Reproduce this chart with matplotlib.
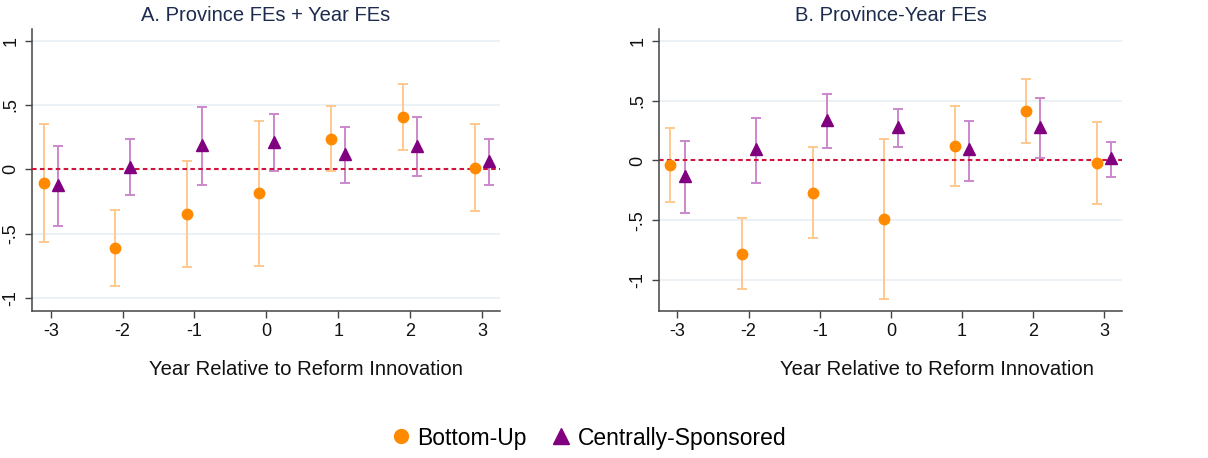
import matplotlib.pyplot as plt
from matplotlib.lines import Line2D

plt.rcParams["font.family"] = ["Liberation Sans", "DejaVu Sans"]

years = [-3, -2, -1, 0, 1, 2, 3]

# Panel A: Province FEs + Year FEs
a_bu = [-0.104, -0.61, -0.35, -0.184, 0.239, 0.408, 0.013]
a_bu_lo = [-0.566, -0.909, -0.761, -0.748, -0.013, 0.151, -0.327]
a_bu_hi = [0.356, -0.312, 0.062, 0.379, 0.494, 0.662, 0.356]
a_cs = [-0.125, 0.02, 0.19, 0.216, 0.12, 0.18, 0.062]
a_cs_lo = [-0.442, -0.203, -0.122, -0.016, -0.106, -0.055, -0.122]
a_cs_hi = [0.184, 0.239, 0.483, 0.429, 0.33, 0.405, 0.234]

# Panel B: Province-Year FEs
b_bu = [-0.039, -0.78, -0.271, -0.492, 0.123, 0.414, -0.022]
b_bu_lo = [-0.347, -1.08, -0.652, -1.158, -0.21, 0.145, -0.364]
b_bu_hi = [0.271, -0.478, 0.115, 0.182, 0.459, 0.683, 0.322]
b_cs = [-0.134, 0.095, 0.341, 0.283, 0.092, 0.28, 0.017]
b_cs_lo = [-0.439, -0.185, 0.103, 0.112, -0.176, 0.017, -0.14]
b_cs_hi = [0.16, 0.355, 0.559, 0.434, 0.333, 0.523, 0.154]

ORANGE = "#ff8a00"
ORANGE_CI = "#ffc98f"
PURPLE = "#800080"
PURPLE_CI = "#cc88cc"
TITLE_COLOR = "#1c2b4e"


def draw_panel(ax, title, bu, bu_lo, bu_hi, cs, cs_lo, cs_hi, ylim, label_x):
    off = 0.1
    xb = [x - off for x in years]
    xc = [x + off for x in years]

    for y in [-1, -0.5, 0.5, 1]:
        ax.axhline(y, color="#e8eff2", lw=1.2, zorder=0)

    ax.errorbar(xb, bu,
                yerr=[[b - l for b, l in zip(bu, bu_lo)],
                      [h - b for b, h in zip(bu, bu_hi)]],
                fmt="none", ecolor=ORANGE_CI, elinewidth=1.4, capsize=3.8,
                capthick=1.4, zorder=2)
    ax.errorbar(xc, cs,
                yerr=[[c - l for c, l in zip(cs, cs_lo)],
                      [h - c for c, h in zip(cs, cs_hi)]],
                fmt="none", ecolor=PURPLE_CI, elinewidth=1.4, capsize=3.8,
                capthick=1.4, zorder=2)
    ax.axhline(0, color="#d0143c", lw=1.5, ls=(0, (2.2, 1.6)), zorder=3)
    ax.plot(xb, bu, "o", color=ORANGE, ms=7.5, zorder=4, ls="none")
    ax.plot(xc, cs, "^", color=PURPLE, ms=8, zorder=4, ls="none")

    ax.set_xlim(-3.26, 3.25)
    ax.set_ylim(*ylim)
    ax.set_xticks(years)
    ax.set_xticklabels([str(y) for y in years])
    ax.set_yticks([-1, -0.5, 0, 0.5, 1])
    ax.set_yticklabels(["-1", "-.5", "0", ".5", "1"], rotation=90, va="center")
    ax.tick_params(axis="both", labelsize=13, length=5, width=1,
                   color="#444444", labelcolor="#111111", pad=4)
    for s in ["top", "right"]:
        ax.spines[s].set_visible(False)
    for s in ["left", "bottom"]:
        ax.spines[s].set_color("#444444")
        ax.spines[s].set_linewidth(1.1)
    ax.set_title(title, fontsize=14.5, color=TITLE_COLOR, pad=6)
    ax.set_xlabel("Year Relative to Reform Innovation", fontsize=14.6,
                  color="#111111")
    ax.xaxis.set_label_coords(label_x, -0.175)


fig = plt.figure(figsize=(12.08, 4.58), dpi=100)
ax1 = fig.add_axes([32 / 1208, 1 - 311 / 458, 468 / 1208, 282 / 458])
ax2 = fig.add_axes([659 / 1208, 1 - 311 / 458, 463 / 1208, 282 / 458])

draw_panel(ax1, "A. Province FEs + Year FEs", a_bu, a_bu_lo, a_bu_hi,
           a_cs, a_cs_lo, a_cs_hi, (-1.1, 1.09), 0.585)
draw_panel(ax2, "B. Province-Year FEs", b_bu, b_bu_lo, b_bu_hi,
           b_cs, b_cs_lo, b_cs_hi, (-1.26, 1.1), 0.6015)

handles = [
    Line2D([], [], marker="o", color=ORANGE, ls="none", ms=10),
    Line2D([], [], marker="^", color=PURPLE, ls="none", ms=11),
]
fig.legend(handles, ["Bottom-Up", "Centrally-Sponsored"], loc="center",
           bbox_to_anchor=(588 / 1208, 1 - 438 / 458), ncol=2, frameon=False,
           fontsize=16.5, handletextpad=0.2, columnspacing=1.0, handlelength=1.0)

fig.savefig("out.png", dpi=100)
